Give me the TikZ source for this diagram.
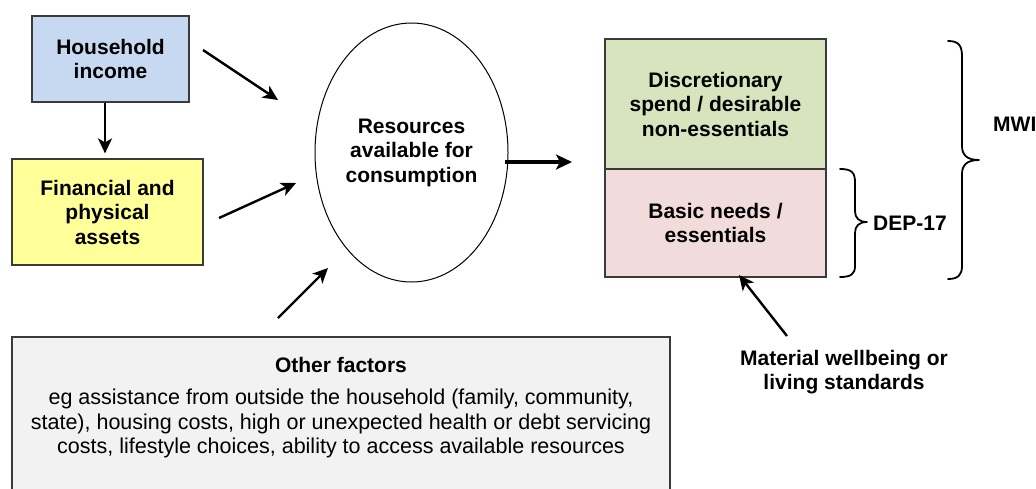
\documentclass[tikz,border=0pt]{standalone}
\usepackage{fontspec}
\setmainfont{Liberation Sans}
\usetikzlibrary{shapes.geometric,arrows.meta}
\definecolor{boxline}{HTML}{3A3A3A}
\definecolor{incomefill}{HTML}{C6D9F1}
\definecolor{assetfill}{HTML}{FFFF99}
\definecolor{discfill}{HTML}{D7E4BD}
\definecolor{basicfill}{HTML}{F2DCDB}
\definecolor{otherfill}{HTML}{F2F2F2}
\begin{document}
\begin{tikzpicture}[x=1pt,y=-1pt,
  txt/.style={align=center, inner sep=0pt, font=\fontsize{21.5}{24.5}\selectfont},
  btxt/.style={txt, font=\fontsize{21}{24.5}\selectfont\bfseries},
  box/.style={btxt, draw=boxline, line width=1.2pt, rectangle},
  arr/.style={line width=2.4pt, -{Stealth[length=15pt,width=14pt,inset=4pt]}},
  bigarr/.style={line width=4pt, -{Stealth[length=16pt,width=15pt,inset=4pt]}},
  brace/.style={line width=1.8pt, line cap=round, line join=round}
]
\useasboundingbox (0,0) rectangle (1036,488);
\clip (0,0) rectangle (1036,488);

% input boxes
\node[box, fill=incomefill, minimum width=157pt, minimum height=86pt] (hh) at (110.5,59) {Household\\income};
\node[box, fill=assetfill, minimum width=191pt, minimum height=106pt] (fin) at (107.5,212) {Financial and\\physical\\assets};

% resources ellipse
\node[btxt, ellipse, draw=black, line width=1pt, minimum width=193pt, minimum height=259pt] (res) at (411.5,152.5) {Resources\\available for\\consumption};

% consumption stack
\node[box, fill=discfill, minimum width=221pt, minimum height=130pt] (disc) at (715.5,104) {Discretionary\\spend / desirable\\non-essentials};
\node[box, fill=basicfill, minimum width=221pt, minimum height=108pt] (basic) at (715.5,223) {Basic needs /\\essentials};

% other factors
\node[draw=boxline, line width=1.2pt, fill=otherfill, minimum width=658pt, minimum height=200pt, inner sep=0pt] (other) at (341,437) {};
\node[txt] (othertxt) at (341,408) {\textbf{\fontsize{21}{24.5}\selectfont Other factors}\\[7.5pt]eg assistance from outside the household (family, community,\\state), housing costs, high or unexpected health or debt servicing\\costs, lifestyle choices, ability to access available resources};

% labels
\node[btxt] (mw) at (844,372) {Material wellbeing or\\living standards};
\node[btxt, anchor=west] (dep) at (873,223) {DEP-17};
\node[btxt, anchor=west] (mwi) at (993,124) {MWI};

% arrow end points
\coordinate (a1s) at (203,50);  \coordinate (a1e) at (278,100);
\coordinate (a2s) at (219,218); \coordinate (a2e) at (296,183);
\coordinate (a3s) at (278,318); \coordinate (a3e) at (328,268);
\coordinate (a4s) at (505,162); \coordinate (a4e) at (572,162);
\coordinate (a5s) at (787,336); \coordinate (a5e) at (739,275);

\draw[arr] ([xshift=-5.5pt]hh.south) -- ([xshift=-2.5pt,yshift=5pt]fin.north);
\draw[arr] (a1s) -- (a1e);
\draw[arr] (a2s) -- (a2e);
\draw[arr] (a3s) -- (a3e);
\draw[bigarr] (a4s) -- (a4e);
\draw[arr] (a5s) -- (a5e);

% braces
\draw[brace] (840,169) .. controls (851,169) and (855,172) .. (855,182) -- (855,211)
  .. controls (855,218) and (859,222) .. (867,222)
  .. controls (859,222) and (855,226) .. (855,233) -- (855,266)
  .. controls (855,274) and (851,277) .. (840,277);
\draw[brace] (948,41) .. controls (958,41) and (962,45) .. (962,56) -- (962,146)
  .. controls (962,155) and (967,160) .. (979,160)
  .. controls (967,160) and (962,165) .. (962,174) -- (962,266)
  .. controls (962,275) and (958,279) .. (948,279);
\end{tikzpicture}
\end{document}
